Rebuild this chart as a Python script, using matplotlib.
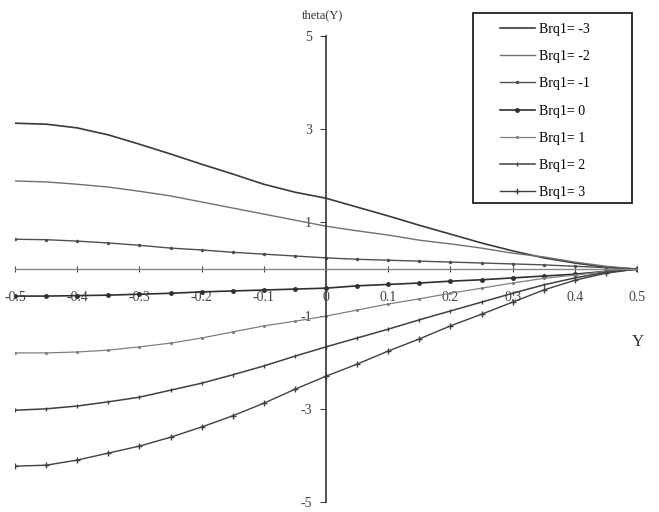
import matplotlib
matplotlib.use('Agg')
import matplotlib.pyplot as plt
from matplotlib.patches import Rectangle

# Y positions across the channel
y_pos = [-0.5, -0.45, -0.4, -0.35, -0.3, -0.25, -0.2, -0.15, -0.1, -0.05, 0.0,
         0.05, 0.1, 0.15, 0.2, 0.25, 0.3, 0.35, 0.4, 0.45, 0.5]

# theta(Y), one list per Brq1 value
theta_m3 = [3.13, 3.11, 3.03, 2.88, 2.68, 2.47, 2.25, 2.04, 1.82, 1.65, 1.52,
            1.33, 1.14, 0.94, 0.75, 0.56, 0.39, 0.24, 0.13, 0.04, 0.0]
theta_m2 = [1.89, 1.87, 1.82, 1.76, 1.67, 1.57, 1.44, 1.31, 1.18, 1.05, 0.92,
            0.82, 0.73, 0.62, 0.54, 0.45, 0.34, 0.26, 0.15, 0.06, 0.0]
theta_m1 = [0.64, 0.63, 0.60, 0.56, 0.51, 0.45, 0.41, 0.36, 0.32, 0.28, 0.24,
            0.21, 0.19, 0.17, 0.15, 0.13, 0.11, 0.09, 0.06, 0.03, 0.0]
theta_0 = [-0.58, -0.58, -0.57, -0.56, -0.54, -0.52, -0.49, -0.47, -0.45, -0.43, -0.41,
           -0.36, -0.33, -0.30, -0.26, -0.23, -0.19, -0.15, -0.11, -0.05, 0.0]
theta_p1 = [-1.80, -1.80, -1.78, -1.74, -1.67, -1.59, -1.48, -1.35, -1.22, -1.12, -1.01,
            -0.88, -0.75, -0.64, -0.52, -0.41, -0.30, -0.20, -0.13, -0.05, 0.0]
theta_p2 = [-3.03, -3.00, -2.94, -2.85, -2.75, -2.60, -2.45, -2.27, -2.08, -1.87, -1.67,
            -1.48, -1.29, -1.09, -0.90, -0.71, -0.52, -0.34, -0.19, -0.07, 0.0]
theta_p3 = [-4.23, -4.21, -4.10, -3.95, -3.80, -3.61, -3.39, -3.15, -2.88, -2.58, -2.30,
            -2.04, -1.76, -1.50, -1.22, -0.97, -0.71, -0.45, -0.24, -0.09, 0.0]

labels = ['Brq1= -3', 'Brq1= -2', 'Brq1= -1', 'Brq1= 0', 'Brq1= 1', 'Brq1= 2', 'Brq1= 3']
x_ticks = [-0.5, -0.4, -0.3, -0.2, -0.1, 0.0, 0.1, 0.2, 0.3, 0.4, 0.5]
x_ticklabels = ['-0.5', '-0.4', '-0.3', '-0.2', '-0.1', '0', '0.1', '0.2', '0.3', '0.4', '0.5']
y_ticks = [5, 3, 1, -1, -3, -5]
y_ticklabels = ['5', '3', '1', '-1', '-3', '-5']

plt.rcParams['font.family'] = ['Liberation Serif', 'DejaVu Serif']

fig = plt.figure(figsize=(6.59, 5.12), dpi=100)
ax = fig.add_axes([15 / 659, 0.0195, 622 / 659, 0.910])

# line styles: (color, marker, markersize, linewidth)
styles = [
    ('#3a3a3a', None, 0, 1.2),
    ('#707070', None, 0, 1.0),
    ('#505050', '.', 3, 1.0),
    ('#303030', 'o', 2.5, 1.2),
    ('#808080', '.', 2.5, 0.9),
    ('#404040', '|', 3, 1.1),
    ('#404040', '+', 4, 1.0),
]
series = [theta_m3, theta_m2, theta_m1, theta_0, theta_p1, theta_p2, theta_p3]

for vals, lab, (c, m, ms, lw) in zip(series, labels, styles):
    ax.plot(y_pos, vals, color=c, marker=m, markersize=ms, linewidth=lw, label=lab)

ax.set_xlim(-0.5, 0.5)
ax.set_ylim(-5, 5)

# axes through the origin
ax.spines['left'].set_position(('data', 0))
ax.spines['bottom'].set_position(('data', 0))
ax.spines['right'].set_visible(False)
ax.spines['top'].set_visible(False)
ax.spines['left'].set_color('#333333')
ax.spines['bottom'].set_color('#888888')
ax.spines['left'].set_linewidth(1.2)
ax.spines['bottom'].set_linewidth(1.0)

ax.set_xticks(x_ticks)
ax.set_xticklabels(x_ticklabels)
ax.set_yticks(y_ticks)
ax.set_yticklabels(y_ticklabels)
ax.tick_params(axis='x', direction='inout', length=4, pad=14, labelsize=10, colors='#444444')
ax.tick_params(axis='y', direction='out', length=4, pad=6, labelsize=10, colors='#444444')

fig.text(0.489, 0.970, 'theta(Y)', ha='center', va='center', fontsize=9, color='#333333')
fig.text(0.968, 0.332, 'Y', ha='center', va='center', fontsize=12, color='#333333')

# legend entries without frame, box drawn separately to match its width
leg = ax.legend(loc='upper left', bbox_to_anchor=(500 / 659, 1 - 23 / 512),
                bbox_transform=fig.transFigure, borderaxespad=0, borderpad=0,
                fontsize=10, handlelength=2.5, labelspacing=1.02, frameon=False,
                handletextpad=0.3)
fig.patches.append(Rectangle((473 / 659, 1 - 203 / 512), 159 / 659, 190 / 512,
                             transform=fig.transFigure, fill=False,
                             edgecolor='#222222', linewidth=1.3))

fig.savefig('out.png', dpi=100)
